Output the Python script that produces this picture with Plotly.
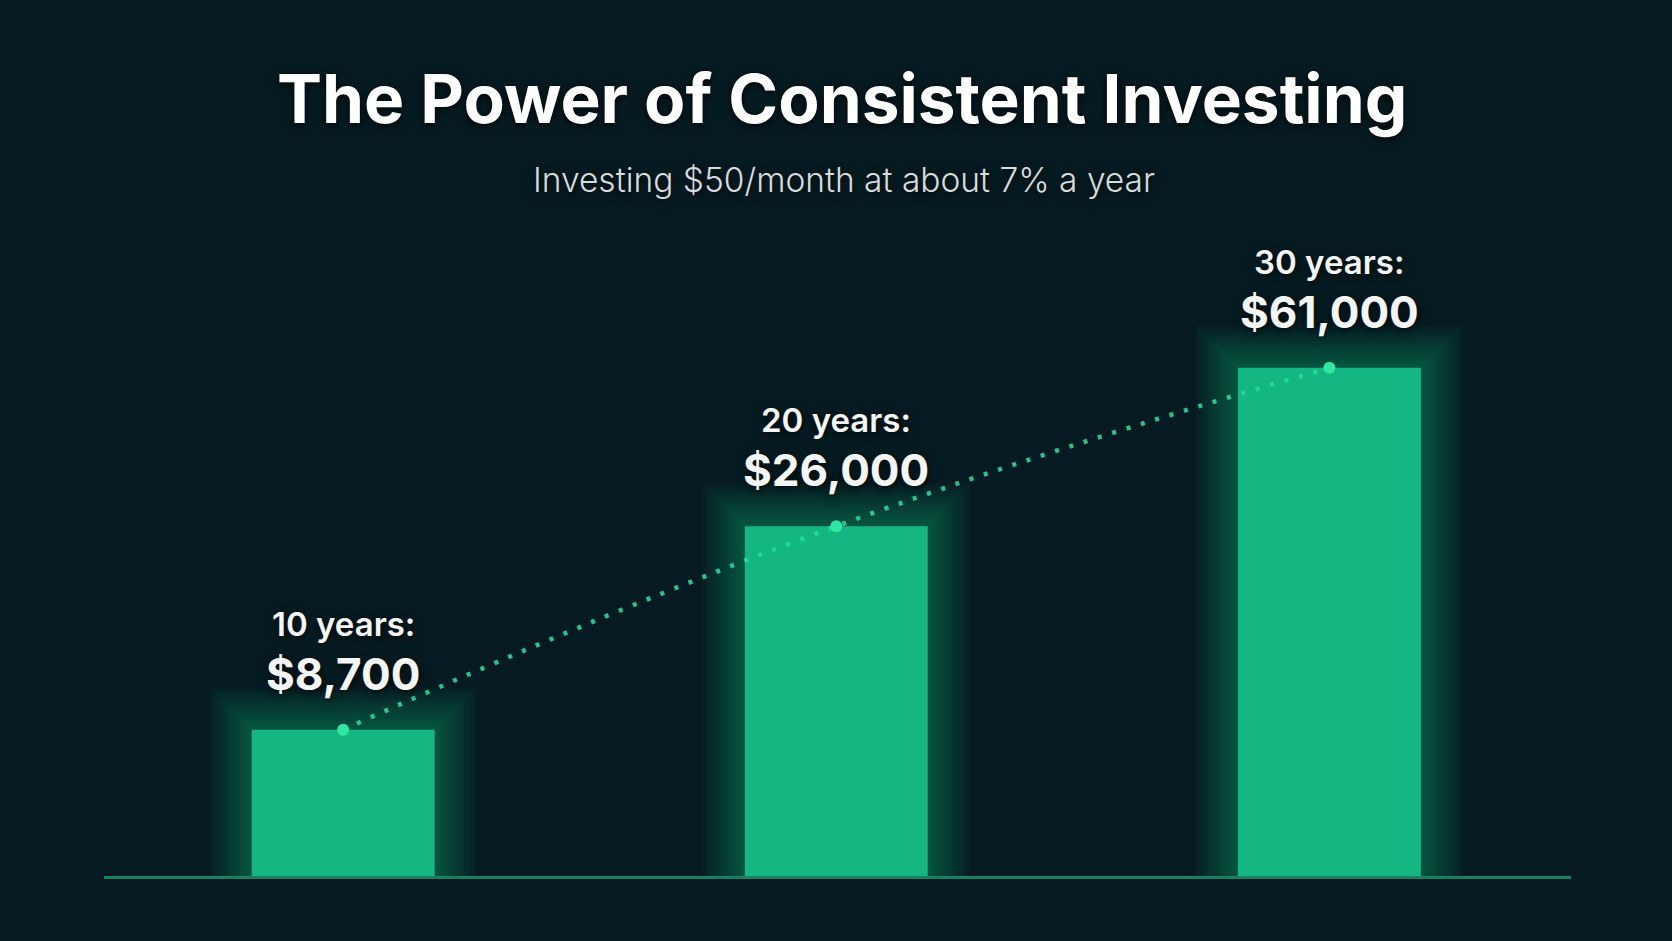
import math
import plotly.graph_objects as go

# ---- data ----
years = [10, 20, 30]
categories = ["10 years", "20 years", "30 years"]
values = [8700, 26000, 61000]
title_text = "The Power of Consistent Investing"
subtitle_text = "Investing $50/month at about 7% a year"

# ---- styles ----
BG = "#061b21"
BAR = "#14b782"
LINE = "#22dc98"
DOT = "#2fe7a3"
FONT = "Inter"

W, H = 1672, 941
ML, MR, MT, MB = 104, 101, 200, 64.5
plot_h = H - MT - MB

fig = go.Figure()

# soft glow layers behind bars
for lw in range(84, 0, -6):
    fig.add_trace(go.Bar(
        x=categories, y=values, width=0.371,
        marker=dict(color="rgba(20,200,130,0)",
                    line=dict(color="rgba(24,215,140,0.028)", width=lw)),
        hoverinfo="skip", showlegend=False))

# main bars
fig.add_trace(go.Bar(
    x=categories, y=values, width=0.371,
    marker=dict(color=BAR, line=dict(width=0)),
    hoverinfo="skip", showlegend=False))

# dotted trend line
fig.add_trace(go.Scatter(
    x=categories, y=values, mode="lines",
    line=dict(color=LINE, width=4.5, dash="4px,11px", shape="spline", smoothing=1.3),
    opacity=0.9, hoverinfo="skip", showlegend=False))

# dots at bar tops
fig.add_trace(go.Scatter(
    x=categories, y=values, mode="markers",
    marker=dict(color=DOT, size=12, line=dict(width=0)),
    hoverinfo="skip", showlegend=False))

shadow = "0px 2px 8px rgba(0,0,0,0.75)"
ann = []
for c, yr, v in zip(categories, years, values):
    ly = math.log10(v)
    ann.append(dict(x=c, y=ly, xref="x", yref="y", text=f"${v:,}",
                    showarrow=False, yanchor="middle", yshift=56,
                    font=dict(family=FONT, size=44, color="#f4f6f6", weight=700, shadow=shadow)))
    ann.append(dict(x=c, y=ly, xref="x", yref="y", text=f"{yr} years:",
                    showarrow=False, yanchor="middle", yshift=106,
                    font=dict(family=FONT, size=33, color="#f4f6f6", weight=600, shadow=shadow)))

def py(px):
    return (H - MB - px) / plot_h

ann.append(dict(x=0.503, y=py(98), xref="paper", yref="paper", text=title_text,
                showarrow=False, yanchor="middle", xanchor="center",
                font=dict(family=FONT, size=67.5, color="#ffffff", weight=700, shadow=shadow)))
ann.append(dict(x=0.5045, y=py(180), xref="paper", yref="paper", text=subtitle_text,
                showarrow=False, yanchor="middle", xanchor="center",
                font=dict(family=FONT, size=33.5, color="#d6dcde", weight=300, shadow=shadow)))

fig.update_layout(
    width=W, height=H,
    margin=dict(l=ML, r=MR, t=MT, b=MB, pad=0),
    paper_bgcolor=BG, plot_bgcolor=BG,
    barmode="overlay",
    showlegend=False,
    hovermode=False,
    annotations=ann,
    xaxis=dict(range=[-0.485, 2.49], showgrid=False, zeroline=False,
               showticklabels=False, ticks="", showline=True,
               linecolor="#1b8060", linewidth=2.5, automargin=False, fixedrange=True),
    yaxis=dict(type="log", range=[3.5974, 5.1777], showgrid=False, zeroline=False,
               showticklabels=False, ticks="", showline=False,
               automargin=False, fixedrange=True),
)

fig.write_html("out.html", config={"displayModeBar": False, "staticPlot": True},
               post_script="document.body.style.margin='0';document.body.style.overflow='hidden';document.body.style.background='%s';" % BG)
